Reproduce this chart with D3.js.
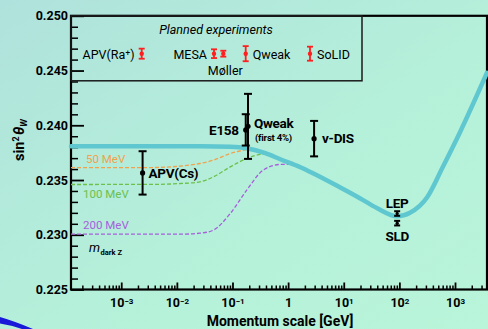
<!DOCTYPE html>
<html>
<head>
<meta charset="utf-8">
<script src="https://cdn.jsdelivr.net/npm/d3@7"></script>
<style>
  html, body { margin: 0; padding: 0; }
  body { width: 488px; height: 329px; overflow: hidden; }
  svg { display: block; font-family: Roboto, "Liberation Sans", sans-serif; }
</style>
</head>
<body>
<div id="chart"></div>
<script>
// Standard model running of sin^2(theta_W) (Q in GeV)
const runQ    = [1.25e-4, 0.005, 0.026, 0.09, 0.18, 0.39, 0.72, 1.66, 2.8, 8.5, 19.5, 40, 91, 155, 316, 600, 1230, 3760];
const runSin2 = [0.23809, 0.23809, 0.23808, 0.23803, 0.2379, 0.23745, 0.2369, 0.23617, 0.23562, 0.23434, 0.23334, 0.23242, 0.23169, 0.23201, 0.23343, 0.23617, 0.23937, 0.24480];

// dark Z curves
const darkZNames = ['50 MeV', '100 MeV', '200 MeV'];
const darkZQ = [
  [1.25e-4, 0.0034, 0.0115, 0.026, 0.045, 0.091, 0.155, 0.21],
  [1.25e-4, 0.005, 0.0115, 0.026, 0.045, 0.091, 0.18, 0.355, 0.54],
  [1.25e-4, 0.0115, 0.026, 0.045, 0.091, 0.18, 0.355, 0.72, 1.1, 1.45]
];
const darkZSin2 = [
  [0.23614, 0.23614, 0.23627, 0.23651, 0.23681, 0.23742, 0.23772, 0.23785],
  [0.23459, 0.23461, 0.23468, 0.23483, 0.23528, 0.2362, 0.23696, 0.23736, 0.23725],
  [0.23005, 0.23005, 0.23014, 0.23041, 0.23194, 0.23407, 0.2359, 0.23642, 0.23642, 0.23626]
];
const darkZColors = ['#f0a24c', '#6dc04c', '#a660dc'];

// measurements
const measNames = ['APV(Cs)', 'E158', 'Qweak', 'ν-DIS', 'LEP', 'SLD'];
const measQ     = [0.00242, 0.173, 0.19, 2.93, 91.2, 91.2];
const measSin2  = [0.23565, 0.23958, 0.2399, 0.23878, 0.23194, 0.23106];
const measErr   = [0.00198, 0.00143, 0.00297, 0.00162, 0.00021, 0.00021];

// planned experiments (projected errors)
const plannedNames = ['APV(Ra⁺)', 'MESA', 'Møller', 'Qweak', 'SoLID'];
const plannedErr   = [0.00046, 0.00040, 0.00027, 0.00069, 0.00064];
const plannedSin2  = 0.24654;

const xMajor = [1e-3, 1e-2, 1e-1, 1, 10, 100, 1000];
const xLabelExp = ['−3', '−2', '−1', '', '1', '2', '3'];
const yMajor = [0.225, 0.230, 0.235, 0.240, 0.245, 0.250];

const width = 488, height = 329;

const svg = d3.select('#chart').append('svg')
  .attr('width', width)
  .attr('height', height);

// background
const defs = svg.append('defs');
const grad = defs.append('linearGradient')
  .attr('id', 'bg').attr('x1', 0).attr('y1', 0).attr('x2', 1).attr('y2', 1);
grad.append('stop').attr('offset', '0%').attr('stop-color', '#afe2dc');
grad.append('stop').attr('offset', '55%').attr('stop-color', '#b5f0da');
grad.append('stop').attr('offset', '100%').attr('stop-color', '#b9f5d9');
svg.append('rect').attr('width', width).attr('height', height).attr('fill', 'url(#bg)');

// blue swoosh in the corner
svg.append('path')
  .attr('d', 'M0,317 Q14,321 33,329 L22,329 Q10,325 0,323.5 Z')
  .attr('fill', '#1818d8');

const x = d3.scaleLog().domain([1.25e-4, 3760]).range([71, 487]);
const y = d3.scaleLinear().domain([0.225, 0.250]).range([289.5, 15.8]);

// minor ticks
const xMinor = [];
for (let e = -4; e <= 3; e++) {
  for (let m = 2; m <= 9; m++) {
    const v = m * Math.pow(10, e);
    if (v > x.domain()[0] && v < x.domain()[1]) xMinor.push(v);
  }
}
const yMinor = d3.range(0.225, 0.2501, 0.001).filter(v => Math.round(v * 1000) % 5 !== 0);

svg.append('g')
  .attr('transform', `translate(0,${y(0.225)})`)
  .call(d3.axisBottom(x).tickValues(xMinor).tickSize(-4).tickFormat(''))
  .call(g => g.select('.domain').remove())
  .call(g => g.selectAll('line').attr('stroke', '#000').attr('stroke-width', 1.5));

const xAxis = svg.append('g')
  .attr('transform', `translate(0,${y(0.225)})`)
  .call(d3.axisBottom(x).tickValues(xMajor).tickSize(-7).tickPadding(9).tickFormat(''))
  .call(g => g.select('.domain').remove())
  .call(g => g.selectAll('line').attr('stroke', '#000').attr('stroke-width', 1.8));

xAxis.selectAll('.tick text')
  .attr('fill', '#000')
  .attr('font-size', 12.5)
  .attr('font-weight', 'bold')
  .attr('font-family', 'Roboto, sans-serif')
  .each(function(d, i) {
    const t = d3.select(this);
    if (d === 1) { t.text('1'); return; }
    t.append('tspan').text('10');
    t.append('tspan').attr('font-size', 8).attr('dy', '-0.45em').text(xLabelExp[i]);
  });

svg.append('g')
  .attr('transform', `translate(${x.range()[0]},0)`)
  .call(d3.axisLeft(y).tickValues(yMinor).tickSize(-7).tickFormat(''))
  .call(g => g.select('.domain').remove())
  .call(g => g.selectAll('line').attr('stroke', '#000').attr('stroke-width', 1.5));

svg.append('g')
  .attr('transform', `translate(${x.range()[0]},0)`)
  .call(d3.axisLeft(y).tickValues(yMajor).tickSize(-13).tickPadding(3).tickFormat(d3.format('.3f')))
  .call(g => g.select('.domain').remove())
  .call(g => g.selectAll('line').attr('stroke', '#000').attr('stroke-width', 1.8))
  .call(g => g.selectAll('text')
    .attr('fill', '#000')
    .attr('font-size', 12.5)
    .attr('font-weight', 'bold')
    .attr('font-family', 'Roboto, sans-serif'));

// frame
svg.append('rect')
  .attr('x', x.range()[0]).attr('y', y(0.250))
  .attr('width', x.range()[1] - x.range()[0])
  .attr('height', y(0.225) - y(0.250))
  .attr('fill', 'none')
  .attr('stroke', '#000')
  .attr('stroke-width', 2.2);

// axis titles
svg.append('text')
  .attr('x', 280).attr('y', 326)
  .attr('text-anchor', 'middle')
  .attr('font-size', 14).attr('font-weight', 'bold')
  .text('Momentum scale [GeV]');

const yTitle = svg.append('text')
  .attr('transform', 'translate(24,140) rotate(-90)')
  .attr('text-anchor', 'middle')
  .attr('font-size', 14.5).attr('font-weight', 'bold');
yTitle.append('tspan').text('sin');
yTitle.append('tspan').attr('font-size', 9).attr('dy', -5.5).text('2');
yTitle.append('tspan').attr('dy', 5.5).attr('dx', 1.5).attr('font-style', 'italic').text('θ');
yTitle.append('tspan').attr('font-size', 9).attr('dy', 3).attr('font-style', 'italic').text('W');

const line = d3.line()
  .x(d => x(d[0]))
  .y(d => y(d[1]))
  .curve(d3.curveMonotoneX);

// dark Z dashed curves + labels
const labelBaseline = [162.7, 197.7, 229];
darkZNames.forEach((name, i) => {
  svg.append('path')
    .attr('d', line(d3.zip(darkZQ[i], darkZSin2[i])))
    .attr('fill', 'none')
    .attr('stroke', darkZColors[i])
    .attr('stroke-width', 1.3)
    .attr('stroke-dasharray', '4,2');
  svg.append('text')
    .attr('x', i === 0 ? 86 : 83)
    .attr('y', labelBaseline[i])
    .attr('font-size', 11.5)
    .attr('fill', darkZColors[i])
    .text(name);
});

const mz = svg.append('text').attr('x', 89).attr('y', 252);
mz.append('tspan').attr('font-size', 13).attr('font-style', 'italic').text('m');
mz.append('tspan').attr('font-size', 7.5).attr('font-weight', 'bold').attr('dy', 2.5).attr('dx', 0.5).text('dark Z');

// main running curve
svg.append('path')
  .attr('d', line(d3.zip(runQ, runSin2)))
  .attr('fill', 'none')
  .attr('stroke', '#5ec7cf')
  .attr('stroke-width', 4.5)
  .attr('stroke-linecap', 'round');

// measurements
const errorBar = (g, cx, v, e, cap, color, w, r) => {
  g.append('line').attr('x1', cx).attr('x2', cx).attr('y1', y(v - e)).attr('y2', y(v + e))
    .attr('stroke', color).attr('stroke-width', w);
  [v - e, v + e].forEach(t => g.append('line')
    .attr('x1', cx - cap / 2).attr('x2', cx + cap / 2).attr('y1', y(t)).attr('y2', y(t))
    .attr('stroke', color).attr('stroke-width', w));
  g.append('circle').attr('cx', cx).attr('cy', y(v)).attr('r', r).attr('fill', color);
};

const measLayer = svg.append('g');
// label offsets relative to the point
const measLabel = [
  { dx: 6, dy: 5, anchor: 'start' },
  { dx: -7, dy: 5.5, anchor: 'end' },
  { dx: 6, dy: 1.5, anchor: 'start' },
  { dx: 8, dy: 4.5, anchor: 'start' },
  { dx: 0, dy: -5.6, anchor: 'middle' },
  { dx: 0, dy: 17.8, anchor: 'middle' }
];
measNames.forEach((name, i) => {
  const cx = x(measQ[i]);
  const small = measErr[i] < 0.0005;
  errorBar(measLayer, cx, measSin2[i], measErr[i], small ? 6 : 8, '#000', 2, small ? 1.6 : 2.6);
  measLayer.append('text')
    .attr('x', cx + measLabel[i].dx)
    .attr('y', y(measSin2[i]) + measLabel[i].dy)
    .attr('text-anchor', measLabel[i].anchor)
    .attr('font-size', 13.5)
    .attr('font-weight', 'bold')
    .attr('letter-spacing', -0.3)
    .text(name);
  if (name === 'Qweak') {
    measLayer.append('text')
      .attr('x', cx + 7)
      .attr('y', y(measSin2[i]) + 15)
      .attr('font-size', 9.5)
      .attr('font-weight', 'bold')
      .attr('letter-spacing', -0.2)
      .text('(first 4%)');
  }
});

// planned experiments legend
const legend = svg.append('g');
legend.append('rect')
  .attr('x', x.range()[0]).attr('y', y(0.250))
  .attr('width', 291).attr('height', 65)
  .attr('fill', 'none')
  .attr('stroke', '#1a1a1a')
  .attr('stroke-width', 1.5);
legend.append('text')
  .attr('x', 216).attr('y', 33.5)
  .attr('text-anchor', 'middle')
  .attr('font-size', 12.5)
  .attr('font-style', 'italic')
  .text('Planned experiments');

const plannedX = [141.7, 214, 223.3, 245.7, 310];
const plannedLabel = [
  { dx: -7, dy: 5, anchor: 'end' },
  { dx: -7, dy: 5, anchor: 'end' },
  { dx: 2, dy: 21, anchor: 'middle' },
  { dx: 7, dy: 5, anchor: 'start' },
  { dx: 7, dy: 5, anchor: 'start' }
];
plannedNames.forEach((name, i) => {
  errorBar(legend, plannedX[i], plannedSin2, plannedErr[i], 6, '#ff1f1f', 1.8, 2.2);
  const t = legend.append('text')
    .attr('x', plannedX[i] + plannedLabel[i].dx)
    .attr('y', y(plannedSin2) + plannedLabel[i].dy)
    .attr('text-anchor', plannedLabel[i].anchor)
    .attr('font-size', 12.5);
  if (name.endsWith('⁺')) {
    t.append('tspan').text('APV(Ra');
    t.append('tspan').attr('font-size', 8).attr('dy', -5).text('+');
    t.append('tspan').attr('dy', 5).text(')');
  } else {
    t.text(name);
  }
});
</script>
</body>
</html>
